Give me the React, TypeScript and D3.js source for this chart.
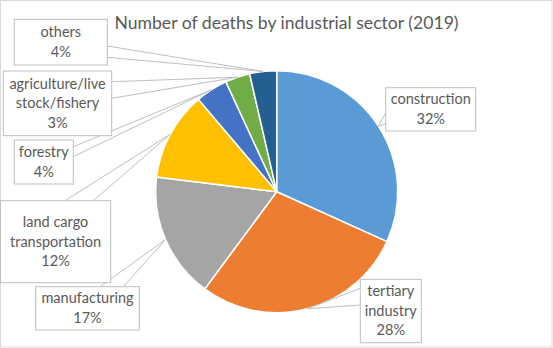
import React from "react";
import * as d3 from "d3";

const categories = [
  "construction",
  "tertiary industry",
  "manufacturing",
  "land cargo transportation",
  "forestry",
  "agriculture/livestock/fishery",
  "others",
];
const values = [31.8, 28.4, 16.8, 11.9, 4.3, 3.3, 3.6];
const labelLines = [
  ["construction"],
  ["tertiary", "industry"],
  ["manufacturing"],
  ["land cargo", "transportation"],
  ["forestry"],
  ["agriculture/live", "stock/fishery"],
  ["others"],
];
const colors = ["#5B9BD5", "#ED7D31", "#A5A5A5", "#FFC000", "#4472C4", "#70AD47", "#255E91"];
const title = "Number of deaths by industrial sector (2019)";

// callout layout: box x,y,w,h and wedge base (side + two offsets)
const callouts = [
  { x: 385.7, y: 87.7, w: 90, h: 43.3, side: "left", a: 113, b: 124 },
  { x: 360.3, y: 279.3, w: 61, h: 63.4, side: "left", a: 288.3, b: 305 },
  { x: 35.7, y: 286.7, w: 103.6, h: 43.3, side: "top", a: 100, b: 123.3 },
  { x: 0.5, y: 200.7, w: 110.2, h: 82, side: "top", a: 65, b: 93.3 },
  { x: 14.3, y: 140, w: 59, h: 44, side: "right", a: 146.7, b: 156.7 },
  { x: 3.3, y: 71, w: 108.4, h: 64.7, side: "right", a: 81.7, b: 98.3 },
  { x: 14.3, y: 19.3, w: 93, h: 45.7, side: "right", a: 46, b: 57.3 },
];

const W = 553;
const H = 348;
const cx = 276.7;
const cy = 191.7;
const R = 121;
const textColor = "#595959";
const font = "Lato, 'Open Sans', sans-serif";

export default function App() {
  const total = d3.sum(values);
  const pie = d3.pie<number>().sort(null).value((d) => d)(values);
  const arc = d3.arc<d3.PieArcDatum<number>>().innerRadius(0).outerRadius(R);
  const pct = (v: number) => `${Math.round((v / total) * 100)}%`;

  return (
    <svg width={W} height={H} style={{ position: "absolute", left: 0, top: 0 }} fontFamily={font}>
      <rect x={0} y={0} width={W} height={H} fill="#fff" />
      <rect x={0.5} y={0.5} width={W - 1.5} height={H - 1.5} fill="none" stroke="#D9D9D9" />
      <text x={286.5} y={29} textAnchor="middle" fontSize={17.6} fill={textColor}>
        {title}
      </text>
      <g transform={`translate(${cx},${cy})`}>
        {pie.map((d, i) => (
          <path key={categories[i]} d={arc(d) || ""} fill={colors[i]} stroke="#fff" strokeWidth={1.5} />
        ))}
      </g>
      {pie.map((d, i) => {
        const c = callouts[i];
        const mid = (d.startAngle + d.endAngle) / 2;
        const tx = cx + R * Math.sin(mid);
        const ty = cy - R * Math.cos(mid);
        let p1: [number, number];
        let p2: [number, number];
        if (c.side === "left") {
          p1 = [c.x, c.a];
          p2 = [c.x, c.b];
        } else if (c.side === "right") {
          p1 = [c.x + c.w, c.a];
          p2 = [c.x + c.w, c.b];
        } else {
          p1 = [c.a, c.y];
          p2 = [c.b, c.y];
        }
        const lines = [...labelLines[i], pct(values[i])];
        const n = lines.length;
        const bcx = c.x + c.w / 2;
        const bcy = c.y + c.h / 2;
        return (
          <g key={"c" + i}>
            <rect x={c.x} y={c.y} width={c.w} height={c.h} fill="#fff" stroke="#BFBFBF" strokeWidth={1} />
            <path
              d={`M${p1[0]},${p1[1]}L${tx},${ty}L${p2[0]},${p2[1]}`}
              fill="none"
              stroke="#BFBFBF"
              strokeWidth={1}
            />
            {lines.map((t, j) => (
              <text
                key={j}
                x={bcx}
                y={bcy + (j - (n - 1) / 2) * 19.6 + 4.8}
                textAnchor="middle"
                fontSize={14.5}
                fill={textColor}
              >
                {t}
              </text>
            ))}
          </g>
        );
      })}
    </svg>
  );
}
